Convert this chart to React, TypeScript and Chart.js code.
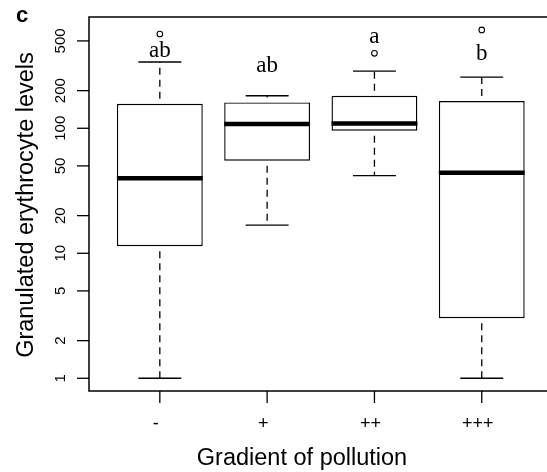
import React, { useEffect, useRef } from 'react';
import { Chart, registerables } from 'chart.js';

Chart.register(...registerables);

// Pollution gradient groups and their box-plot summaries (log scale)
const groups = ['-', '+', '++', '+++'];
const lowerWhisker = [1, 16.8, 41.8, 1];
const lowerQuartile = [11.4, 55, 95.7, 3.02];
const medians = [39.8, 108, 109, 44];
const upperQuartile = [157, 161, 182, 165];
const upperWhisker = [339, 182, 287, 257];
const outliers: number[][] = [[568], [], [398], [612]];

// Significance letters and the level (in data units) of their baseline
const letters = ['ab', 'ab', 'a', 'b'];
const letterLevel = [370, 284, 479, 352];

const yTicks = [1, 2, 5, 10, 20, 50, 100, 200, 500];
const yTickLabels = ['1', '2', '5', '10', '20', '50', '100', '200', '500'];

const yTitle = 'Granulated erythrocyte levels';
const xTitle = 'Gradient of pollution';
const panelTag = 'c';

const SANS = '"Liberation Sans", Arial, sans-serif';
const SERIF = '"Liberation Serif", "Times New Roman", serif';

const boxPlot = {
  id: 'boxPlot',
  afterDatasetsDraw(chart: any) {
    const { ctx } = chart;
    const xs = chart.scales.x;
    const ys = chart.scales.y;
    ctx.save();
    ctx.strokeStyle = '#000';
    ctx.lineCap = 'butt';

    // dashed whiskers
    ctx.lineWidth = 1.3;
    ctx.setLineDash([7, 5]);
    ctx.lineDashOffset = 7;
    groups.forEach((_, i) => {
      const x = xs.getPixelForValue(i + 1);
      ctx.beginPath();
      ctx.moveTo(x, ys.getPixelForValue(upperQuartile[i]));
      ctx.lineTo(x, ys.getPixelForValue(upperWhisker[i]));
      ctx.stroke();
      ctx.beginPath();
      ctx.moveTo(x, ys.getPixelForValue(lowerQuartile[i]));
      ctx.lineTo(x, ys.getPixelForValue(lowerWhisker[i]));
      ctx.stroke();
    });
    ctx.setLineDash([]);

    // whisker caps
    ctx.lineWidth = 1.3;
    groups.forEach((_, i) => {
      const xl = xs.getPixelForValue(i + 1 - 0.2);
      const xr = xs.getPixelForValue(i + 1 + 0.2);
      [upperWhisker[i], lowerWhisker[i]].forEach((v) => {
        const y = ys.getPixelForValue(v);
        ctx.beginPath();
        ctx.moveTo(xl, y);
        ctx.lineTo(xr, y);
        ctx.stroke();
      });
    });

    // medians
    ctx.lineWidth = 4.5;
    groups.forEach((_, i) => {
      const xl = xs.getPixelForValue(i + 1 - 0.4);
      const xr = xs.getPixelForValue(i + 1 + 0.4);
      const y = ys.getPixelForValue(medians[i]);
      ctx.beginPath();
      ctx.moveTo(xl, y);
      ctx.lineTo(xr, y);
      ctx.stroke();
    });
    ctx.restore();
  },
  afterDraw(chart: any) {
    const { ctx, chartArea: a } = chart;
    const xs = chart.scales.x;
    const ys = chart.scales.y;
    ctx.save();
    ctx.strokeStyle = '#000';
    ctx.fillStyle = '#000';

    // frame
    ctx.lineWidth = 1.5;
    ctx.beginPath();
    ctx.moveTo(a.right + 2, a.top);
    ctx.lineTo(a.left, a.top);
    ctx.lineTo(a.left, a.bottom);
    ctx.lineTo(a.right + 2, a.bottom);
    ctx.stroke();

    // y axis ticks and labels
    ctx.lineWidth = 1.3;
    ctx.font = `15px ${SANS}`;
    ctx.textAlign = 'center';
    ctx.textBaseline = 'alphabetic';
    yTicks.forEach((v, i) => {
      const y = ys.getPixelForValue(v);
      ctx.beginPath();
      ctx.moveTo(a.left - 12, y);
      ctx.lineTo(a.left, y);
      ctx.stroke();
      ctx.save();
      ctx.translate(a.left - 24, y);
      ctx.rotate(-Math.PI / 2);
      ctx.fillText(yTickLabels[i], 0, 0);
      ctx.restore();
    });

    // x axis ticks and labels
    ctx.font = `18px ${SANS}`;
    groups.forEach((g, i) => {
      const x = xs.getPixelForValue(i + 1);
      ctx.beginPath();
      ctx.moveTo(x, a.bottom);
      ctx.lineTo(x, a.bottom + 12);
      ctx.stroke();
      ctx.fillText(g, x - 4, a.bottom + 38);
    });

    // significance letters
    ctx.font = `23px ${SERIF}`;
    groups.forEach((_, i) => {
      const x = xs.getPixelForValue(i + 1);
      ctx.fillText(letters[i], x, ys.getPixelForValue(letterLevel[i]));
    });

    // axis titles
    ctx.font = `23.5px ${SANS}`;
    ctx.fillText(xTitle, 302, 465);
    ctx.save();
    ctx.translate(33, 205);
    ctx.rotate(-Math.PI / 2);
    ctx.fillText(yTitle, 0, 0);
    ctx.restore();

    // panel tag
    ctx.font = `bold 22px ${SANS}`;
    ctx.textAlign = 'left';
    ctx.fillText(panelTag, 16, 21.5);
    ctx.restore();
  },
};

export default function App() {
  const canvasRef = useRef<HTMLCanvasElement | null>(null);

  useEffect(() => {
    const canvas = canvasRef.current;
    if (!canvas) return;
    const chart = new Chart(canvas, {
      type: 'bar',
      data: {
        datasets: [
          {
            type: 'bar',
            data: groups.map((_, i) => ({ x: i + 1, y: [lowerQuartile[i], upperQuartile[i]] })) as any,
            backgroundColor: '#ffffff',
            borderColor: '#000000',
            borderWidth: 1.4,
            borderSkipped: false,
            barPercentage: 0.8,
            categoryPercentage: 1,
          },
          {
            type: 'scatter',
            data: outliers.flatMap((vals, i) => vals.map((v) => ({ x: i + 1, y: v }))) as any,
            pointStyle: 'circle',
            pointRadius: 2.8,
            pointBorderWidth: 1.1,
            pointBackgroundColor: '#ffffff',
            pointBorderColor: '#000000',
          } as any,
        ],
      },
      options: {
        animation: false,
        responsive: false,
        maintainAspectRatio: false,
        events: [],
        layout: { autoPadding: false, padding: { left: 89, top: 17, right: 0, bottom: 81 } },
        plugins: { legend: { display: false }, tooltip: { enabled: false } },
        scales: {
          x: {
            type: 'linear',
            min: 0.34,
            max: 4.608,
            offset: false,
            grid: { offset: false },
            display: false,
            afterBuildTicks: (s: any) => {
              s.ticks = groups.map((_, i) => ({ value: i + 1 }));
            },
          },
          y: {
            type: 'logarithmic',
            min: 0.791,
            max: 776.6,
            display: false,
            afterBuildTicks: (s: any) => {
              s.ticks = yTicks.map((v) => ({ value: v }));
            },
          },
        },
      } as any,
      plugins: [boxPlot],
    });
    return () => chart.destroy();
  }, []);

  return (
    <div style={{ position: 'absolute', left: 0, top: 0, background: '#fff' }}>
      <canvas ref={canvasRef} width={547} height={472} style={{ display: 'block' }} />
    </div>
  );
}
